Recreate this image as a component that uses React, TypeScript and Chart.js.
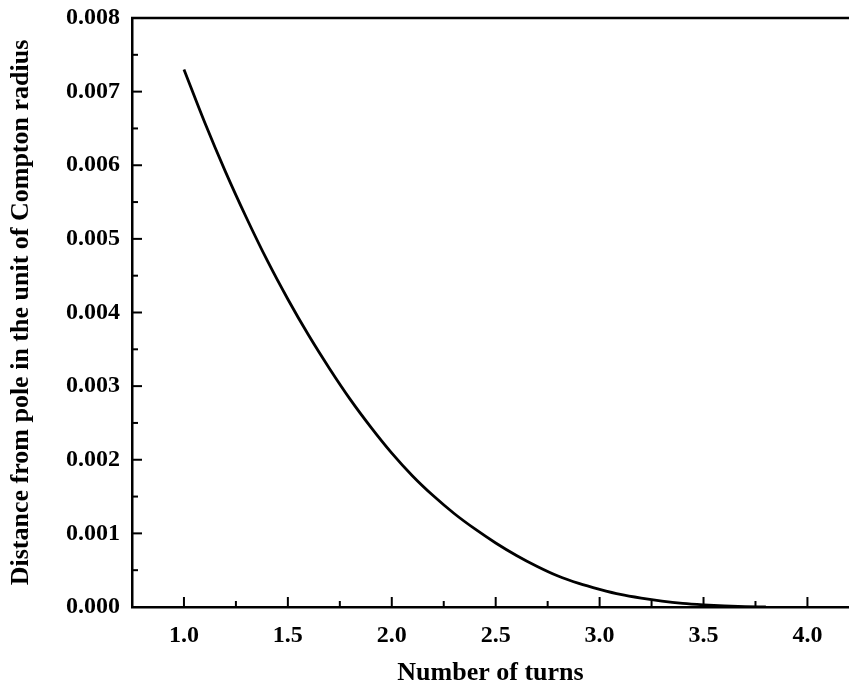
import React, { useEffect, useRef } from "react";
import { Chart, registerables } from "chart.js";

Chart.register(...registerables);

const turns = [1.0, 1.1, 1.2, 1.3, 1.4, 1.5, 1.6, 1.7, 1.8, 1.9, 2.0, 2.1, 2.2, 2.3, 2.4, 2.5, 2.6, 2.7, 2.8, 2.9, 3.0, 3.1, 3.2, 3.3, 3.4, 3.5, 3.6, 3.7, 3.8];
const distance = [0.0073, 0.00658, 0.00591, 0.00529, 0.00471, 0.00418, 0.00369, 0.00324, 0.00282, 0.00244, 0.00209, 0.00178, 0.00151, 0.00127, 0.00106, 0.00087, 0.0007, 0.00055, 0.00042, 0.00032, 0.00024, 0.00017, 0.00012, 0.00008, 0.00005, 0.00003, 0.000015, 0.000005, 0.0];

const xMajorTicks = [1.0, 1.5, 2.0, 2.5, 3.0, 3.5, 4.0];
const xMinorTicks = [1.25, 1.75, 2.25, 2.75, 3.25, 3.75];
const yMajorTicks = [0, 0.001, 0.002, 0.003, 0.004, 0.005, 0.006, 0.007, 0.008];
const yMinorTicks = [0.0005, 0.0015, 0.0025, 0.0035, 0.0045, 0.0055, 0.0065, 0.0075];

const xTitle = "Number of turns";
const yTitle = "Distance from pole in the unit of Compton radius";

const FONT = "'Liberation Serif', 'Times New Roman', serif";

const frameTicks = {
  id: "frameTicks",
  afterDatasetsDraw(chart: any) {
    const { ctx, chartArea, scales } = chart;
    const x = scales.x;
    const y = scales.y;
    ctx.save();
    ctx.strokeStyle = "#000";
    ctx.lineWidth = 2.5;
    ctx.beginPath();
    ctx.moveTo(chartArea.left - 1, chartArea.top);
    ctx.lineTo(chartArea.right, chartArea.top);
    ctx.stroke();
    ctx.lineWidth = 2;
    const drawX = (vals: number[], len: number) => {
      vals.forEach((v) => {
        const px = x.getPixelForValue(v);
        ctx.beginPath();
        ctx.moveTo(px, chartArea.bottom);
        ctx.lineTo(px, chartArea.bottom - len);
        ctx.stroke();
      });
    };
    const drawY = (vals: number[], len: number) => {
      vals.forEach((v) => {
        const py = y.getPixelForValue(v);
        ctx.beginPath();
        ctx.moveTo(chartArea.left, py);
        ctx.lineTo(chartArea.left + len, py);
        ctx.stroke();
      });
    };
    drawX(xMajorTicks, 10);
    drawX(xMinorTicks, 6);
    drawY(yMajorTicks, 10);
    drawY(yMinorTicks, 6);
    ctx.restore();
  },
};

export default function App() {
  const ref = useRef<HTMLCanvasElement | null>(null);
  useEffect(() => {
    if (!ref.current) return;
    const chart = new Chart(ref.current, {
      type: "line",
      data: {
        datasets: [
          {
            data: turns.map((t, i) => ({ x: t, y: distance[i] })),
            borderColor: "#000",
            borderWidth: 2.8,
            pointRadius: 0,
            cubicInterpolationMode: "monotone",
            fill: false,
          },
        ],
      },
      options: {
        animation: false,
        responsive: false,
        maintainAspectRatio: false,
        layout: { padding: { top: 18, right: 0, left: 0, bottom: 0 } },
        plugins: { legend: { display: false }, tooltip: { enabled: false } },
        scales: {
          x: {
            type: "linear",
            min: 0.75,
            max: 4.2,
            afterBuildTicks: (s: any) => {
              s.ticks = xMajorTicks.map((v) => ({ value: v }));
            },
            afterFit: (s: any) => {
              s.height = 84;
              s.paddingLeft = 0;
              s.paddingRight = 0;
            },
            grid: { display: false, drawTicks: false },
            border: { display: true, color: "#000", width: 2.5 },
            ticks: {
              color: "#000",
              padding: 14,
              font: { family: FONT, size: 24, weight: "bold" },
              callback: (v: any) => Number(v).toFixed(1),
              maxRotation: 0,
            },
            title: {
              display: true,
              text: xTitle,
              color: "#000",
              font: { family: FONT, size: 26, weight: "bold" },
              padding: { top: 0, bottom: 2 },
            },
          },
          y: {
            type: "linear",
            min: 0,
            max: 0.008,
            afterBuildTicks: (s: any) => {
              s.ticks = yMajorTicks.map((v) => ({ value: v }));
            },
            afterFit: (s: any) => {
              s.width = 132;
              s.paddingTop = 0;
              s.paddingBottom = 0;
            },
            grid: { display: false, drawTicks: false },
            border: { display: true, color: "#000", width: 2.5 },
            ticks: {
              color: "#000",
              padding: 12,
              font: { family: FONT, size: 24, weight: "bold" },
              callback: (v: any) => Number(v).toFixed(3),
            },
            title: {
              display: true,
              text: yTitle,
              color: "#000",
              font: { family: FONT, size: 26, weight: "bold" },
              padding: { top: 6, bottom: 0 },
            },
          },
        },
      },
      plugins: [frameTicks],
    } as any);
    return () => chart.destroy();
  }, []);
  return (
    <div style={{ position: "fixed", left: 0, top: 0, width: 849, height: 691, background: "#fff" }}>
      <canvas ref={ref} width={849} height={691} style={{ width: 849, height: 691, display: "block" }} />
    </div>
  );
}
